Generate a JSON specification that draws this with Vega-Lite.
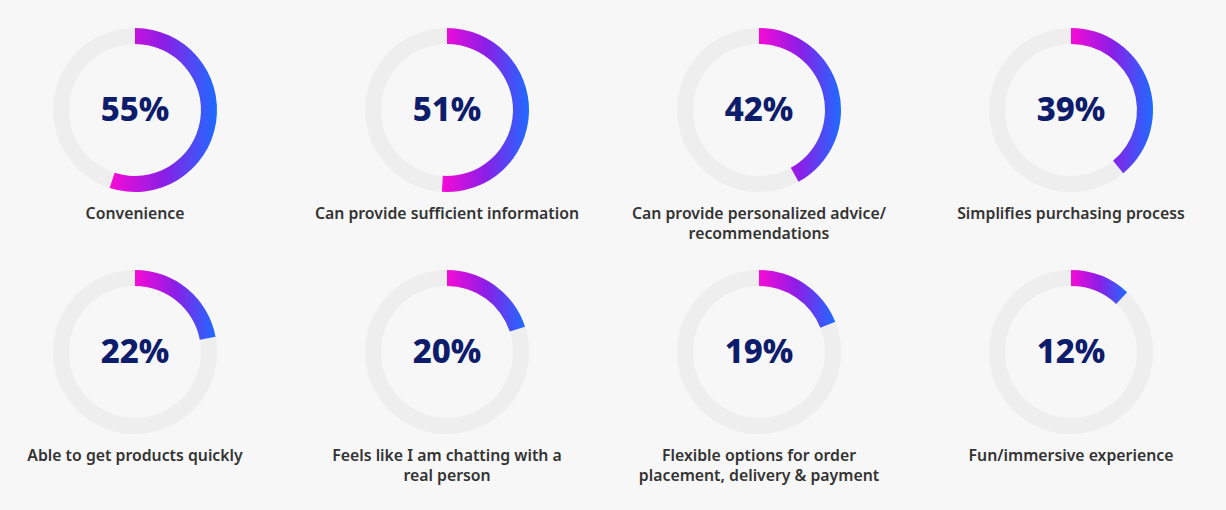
{
  "$schema": "https://vega.github.io/schema/vega-lite/v6.json",
  "width": 1226,
  "height": 510,
  "padding": 0,
  "autosize": {"type": "fit", "contains": "padding"},
  "background": "#f7f7f7",
  "config": {"view": {"stroke": null}},
  "data": {
    "values": [
      {"label": "Convenience", "value": 0.55, "col": 0, "row": 0},
      {"label": "Can provide sufficient information", "value": 0.51, "col": 1, "row": 0},
      {"label": "Can provide personalized advice/\nrecommendations", "value": 0.42, "col": 2, "row": 0},
      {"label": "Simplifies purchasing process", "value": 0.39, "col": 3, "row": 0},
      {"label": "Able to get products quickly", "value": 0.22, "col": 0, "row": 1},
      {"label": "Feels like I am chatting with a\nreal person", "value": 0.20, "col": 1, "row": 1},
      {"label": "Flexible options for order\nplacement, delivery & payment", "value": 0.19, "col": 2, "row": 1},
      {"label": "Fun/immersive experience", "value": 0.12, "col": 3, "row": 1}
    ]
  },
  "encoding": {
    "x": {"field": "col", "type": "quantitative", "axis": null, "scale": {"domain": [-0.4327, 3.4968], "nice": false, "zero": false}},
    "y": {"field": "row", "type": "quantitative", "axis": null, "scale": {"domain": [-0.4545, 1.6529], "nice": false, "zero": false, "reverse": true}}
  },
  "layer": [
    {
      "mark": {"type": "arc", "outerRadius": 82, "innerRadius": 66, "theta": 0, "theta2": 6.2832, "fill": "#eeeeee"}
    },
    {
      "mark": {
        "type": "arc",
        "outerRadius": 82,
        "innerRadius": 66,
        "fill": {
          "gradient": "linear",
          "x1": 0, "y1": 0, "x2": 1, "y2": 0,
          "stops": [
            {"offset": 0, "color": "#f70ad6"},
            {"offset": 0.5, "color": "#8c1ee6"},
            {"offset": 1, "color": "#1d6cff"}
          ]
        }
      },
      "encoding": {
        "theta": {"field": "value", "type": "quantitative", "stack": null, "scale": {"domain": [0, 1], "range": [0, 6.283185]}},
        "theta2": {"datum": 0}
      }
    },
    {
      "mark": {"type": "text", "font": "Noto Sans", "fontWeight": 800, "fontSize": 33, "fill": "#0d1c6b", "baseline": "middle", "align": "center", "dy": 1},
      "encoding": {"text": {"field": "value", "type": "quantitative", "format": ".0%"}}
    },
    {
      "mark": {"type": "text", "font": "Noto Sans", "fontWeight": 600, "fontSize": 15.8, "fill": "#333333", "baseline": "middle", "align": "center", "dy": 104.5, "lineBreak": "\n", "lineHeight": 20},
      "encoding": {"text": {"field": "label", "type": "nominal"}}
    }
  ]
}
